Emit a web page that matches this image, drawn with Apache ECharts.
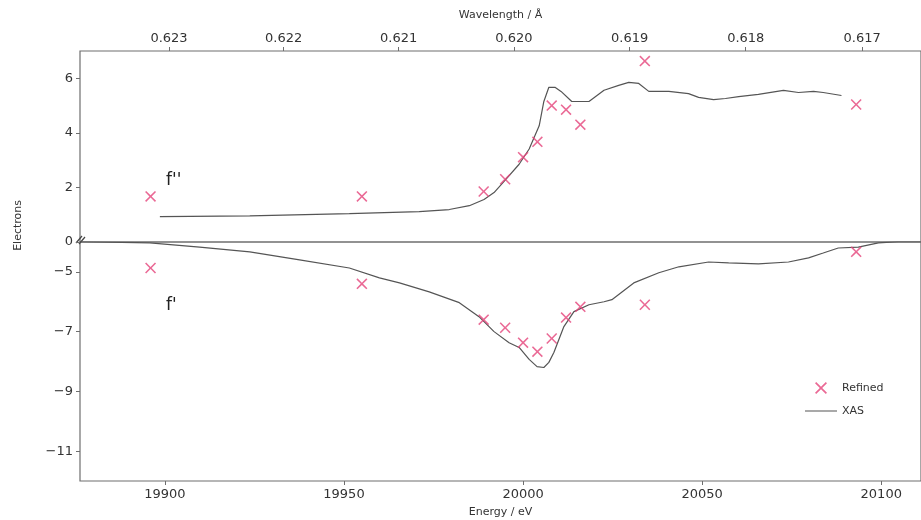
<!DOCTYPE html>
<html>
<head>
<meta charset="utf-8">
<script src="https://cdn.jsdelivr.net/npm/echarts@6/dist/echarts.min.js"></script>
<style>
    html, body { margin: 0; padding: 0; background: #fff; }
    #chart { width: 921px; height: 520px; }
</style>
</head>
<body>
<div id="chart"></div>
<script>
    // refined anomalous scattering factors (energy in eV)
    var refinedEnergy = [19896, 19955, 19989, 19995, 20000, 20004, 20008, 20012, 20016, 20034, 20093];
    var refinedF2 = [1.67, 1.67, 1.85, 2.30, 3.11, 3.67, 5.00, 4.85, 4.30, 6.63, 5.04];
    var refinedF1 = [-4.87, -5.40, -6.60, -6.87, -7.37, -7.67, -7.23, -6.53, -6.17, -6.10, -4.33];

    // f'' from XAS
    var xasF2Energy = [19898.6, 19923.7, 19951.5, 19971.0, 19979.4, 19985.0, 19989.1, 19991.9, 19994.7, 19998.9,
        20001.7, 20004.5, 20005.8, 20007.2, 20008.9, 20010.6, 20013.6, 20018.4, 20022.6, 20026.7,
        20029.5, 20032.3, 20035.1, 20040.7, 20046.2, 20049.0, 20053.2, 20056.5, 20060.2, 20065.7,
        20072.7, 20076.9, 20081.1, 20083.8, 20088.9];
    var xasF2 = [0.93, 0.96, 1.04, 1.11, 1.19, 1.33, 1.56, 1.81, 2.22, 2.85,
        3.41, 4.26, 5.15, 5.67, 5.67, 5.52, 5.15, 5.15, 5.56, 5.74,
        5.85, 5.81, 5.52, 5.52, 5.44, 5.30, 5.22, 5.26, 5.33, 5.41,
        5.56, 5.48, 5.52, 5.48, 5.37];

    // f' from XAS (Kramers-Kronig)
    var xasF1Energy = [19876.3, 19895.8, 19909.7, 19923.7, 19937.6, 19951.5, 19959.9, 19965.5, 19973.8, 19982.2,
        19987.7, 19991.9, 19996.1, 19998.9, 20001.7, 20003.9, 20005.8, 20007.2, 20008.6, 20011.4,
        20014.2, 20018.4, 20022.6, 20024.8, 20030.9, 20037.9, 20043.5, 20051.8, 20057.4, 20065.7,
        20074.1, 20079.7, 20083.8, 20088.0, 20093.6, 20099.2, 20104.7, 20111.0];
    var xasF1 = [-3.99, -4.03, -4.17, -4.33, -4.60, -4.87, -5.20, -5.37, -5.67, -6.03,
        -6.50, -7.00, -7.37, -7.53, -7.93, -8.17, -8.20, -8.03, -7.70, -6.83,
        -6.33, -6.10, -6.00, -5.93, -5.37, -5.03, -4.83, -4.67, -4.70, -4.73,
        -4.67, -4.53, -4.37, -4.20, -4.17, -4.03, -3.99, -3.99];

    var wavelengthTicks = [0.623, 0.622, 0.621, 0.620, 0.619, 0.618, 0.617];
    var energyTicks = [19900, 19950, 20000, 20050, 20100];
    var topTicks = [0, 2, 4, 6];
    var bottomTicks = [-11, -9, -7, -5];

    var HC = 12398.42; // eV * Angstrom
    var eMin = 19876.3, eMax = 20111.1;

    function zip(a, b) {
        return a.map(function (v, i) { return [v, b[i]]; });
    }

    var crossPath = 'path://M0,1 L1,0 L5,4 L9,0 L10,1 L6,5 L10,9 L9,10 L5,6 L1,10 L0,9 L4,5 Z';
    var lineIcon = 'path://M0,0H0.01V0.01H0Z M0,5.4H32V6.6H0Z M0,11.99H0.01V12H0Z';
    var pink = '#e5447a';
    var lineCol = '#555555';
    var spine = '#6e6e6e';
    var labelStyle = {color: '#333', fontSize: 13, fontFamily: 'DejaVu Sans'};
    var wlValues = wavelengthTicks.map(function (l) { return HC / l; });

    var myChart = echarts.init(document.getElementById('chart'));
    var option = {
        backgroundColor: '#fff',
        animation: false,
        grid: [
            {left: 80, top: 51, width: 845, height: 191, show: true, borderColor: spine, borderWidth: 1.2},
            {left: 80, top: 242, width: 845, height: 239, show: true, borderColor: spine, borderWidth: 1.2}
        ],
        xAxis: [
            {
                gridIndex: 0, type: 'value', position: 'top', min: eMin, max: eMax,
                name: 'Wavelength / Å', nameLocation: 'middle', nameGap: 30,
                nameTextStyle: {color: '#333', fontSize: 11, fontFamily: 'DejaVu Sans'},
                axisLine: {show: false, onZero: false},
                splitLine: {show: false},
                axisTick: {show: true, length: 4, lineStyle: {color: spine}, customValues: wlValues},
                axisLabel: Object.assign({
                    margin: 6,
                    customValues: wlValues,
                    formatter: function (v) { return (HC / v).toFixed(3); }
                }, labelStyle)
            },
            {
                gridIndex: 1, type: 'value', position: 'bottom', min: eMin, max: eMax,
                name: 'Energy / eV', nameLocation: 'middle', nameGap: 26,
                nameTextStyle: {color: '#333', fontSize: 11, fontFamily: 'DejaVu Sans'},
                axisLine: {show: false, onZero: false},
                splitLine: {show: false},
                axisTick: {show: true, length: 4, lineStyle: {color: spine}, customValues: energyTicks},
                axisLabel: Object.assign({
                    margin: 7, customValues: energyTicks,
                    formatter: function (v) { return String(v); }
                }, labelStyle)
            }
        ],
        yAxis: [
            {
                gridIndex: 0, type: 'value', min: 0, max: 7,
                axisLine: {show: false, onZero: false},
                splitLine: {show: false},
                axisTick: {show: true, length: 4, lineStyle: {color: spine}, customValues: topTicks},
                axisLabel: Object.assign({margin: 7, customValues: topTicks}, labelStyle)
            },
            {
                gridIndex: 1, type: 'value', min: -12, max: -4,
                axisLine: {show: false, onZero: false},
                splitLine: {show: false},
                axisTick: {show: true, length: 4, lineStyle: {color: spine}, customValues: bottomTicks},
                axisLabel: Object.assign({
                    margin: 7, customValues: bottomTicks,
                    formatter: function (v) { return '\u2212' + Math.abs(v); }
                }, labelStyle)
            }
        ],
        legend: {
            orient: 'vertical',
            left: 800,
            top: 377,
            itemWidth: 32,
            itemHeight: 12,
            itemGap: 11,
            textStyle: {color: '#333', fontSize: 11, fontFamily: 'DejaVu Sans'},
            data: [
                {name: 'Refined', icon: crossPath},
                {name: 'XAS', icon: lineIcon, itemStyle: {color: lineCol}}
            ]
        },
        graphic: [
            {type: 'text', left: 166, top: 172, style: {text: "f''", fontSize: 17, fill: '#222', fontFamily: 'DejaVu Sans'}},
            {type: 'text', left: 166, top: 297, style: {text: "f'", fontSize: 17, fill: '#222', fontFamily: 'DejaVu Sans'}},
            {type: 'text', left: 13, top: 200, rotation: Math.PI / 2, originX: 0, originY: 0,
                style: {text: 'Electrons', fontSize: 11, fill: '#333', fontFamily: 'DejaVu Sans'}},
            {type: 'line', shape: {x1: 76, y1: 243, x2: 82, y2: 236}, style: {stroke: '#444', lineWidth: 1.2}},
            {type: 'line', shape: {x1: 79, y1: 244, x2: 85, y2: 237}, style: {stroke: '#444', lineWidth: 1.2}}
        ],
        series: [
            {
                name: 'XAS', type: 'line', xAxisIndex: 0, yAxisIndex: 0,
                data: zip(xasF2Energy, xasF2), showSymbol: false, symbol: 'none',
                lineStyle: {color: lineCol, width: 1.2}, itemStyle: {color: lineCol}
            },
            {
                name: 'XAS', type: 'line', xAxisIndex: 1, yAxisIndex: 1,
                data: zip(xasF1Energy, xasF1), showSymbol: false, symbol: 'none',
                lineStyle: {color: lineCol, width: 1.2}, itemStyle: {color: lineCol}
            },
            {
                name: 'Refined', type: 'scatter', xAxisIndex: 0, yAxisIndex: 0,
                data: zip(refinedEnergy, refinedF2), symbol: crossPath, symbolSize: 11,
                itemStyle: {color: pink}, z: 3
            },
            {
                name: 'Refined', type: 'scatter', xAxisIndex: 1, yAxisIndex: 1,
                data: zip(refinedEnergy, refinedF1), symbol: crossPath, symbolSize: 11,
                itemStyle: {color: pink}, z: 3
            }
        ]
    };
    option && myChart.setOption(option);
</script>
</body>
</html>
